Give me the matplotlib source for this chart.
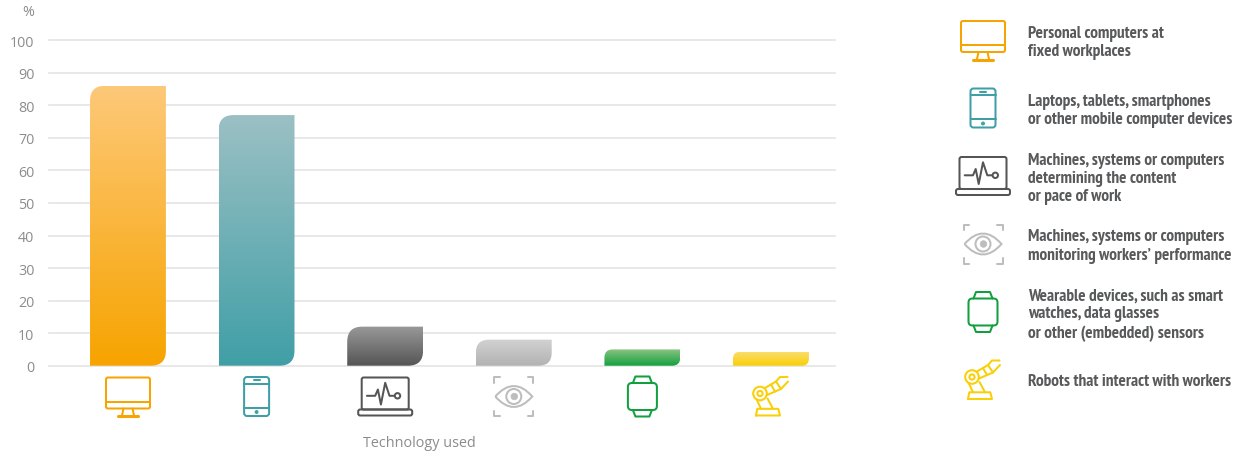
import numpy as np
import matplotlib
matplotlib.use('Agg')
import matplotlib.pyplot as plt
from matplotlib import font_manager
from matplotlib.colors import LinearSegmentedColormap
from matplotlib.patches import Circle, FancyBboxPatch, PathPatch
from matplotlib.path import Path

W, H = 1237, 452

categories = ['Personal computers at\nfixed workplaces',
              'Laptops, tablets, smartphones\nor other mobile computer devices',
              'Machines, systems or computers\ndetermining the content\nor pace of work',
              'Machines, systems or computers\nmonitoring workers\u2019 performance',
              'Wearable devices, such as smart\nwatches, data glasses\nor other (embedded) sensors',
              'Robots that interact with workers']
values = [86, 77, 12, 8, 5, 4.3]
y_ticks = list(range(0, 101, 10))
top_colors = ['#fdc878', '#9bc0c4', '#999999', '#d2d2d2', '#8cc383', '#fbdc6c']
bottom_colors = ['#f7a400', '#409fa6', '#555555', '#b2b2b2', '#11a03e', '#f9cf05']
icon_colors = ['#f7a400', '#409fa6', '#555555', '#bdbdbd', '#11a03e', '#f9cf05']
icon_names = ['monitor', 'phone', 'laptop', 'eye', 'watch', 'robot']
legend_centers = [41, 109, 177, 245, 313, 381]

TEXT_FONT = ['Open Sans', 'DejaVu Sans']
GRAY = '#8c8c8c'
ICON_LW = 1.45

plt.rcParams['font.family'] = TEXT_FONT

# condensed face for the legend, plain Liberation at a smaller size if it is missing
installed = set(f.name for f in font_manager.fontManager.ttflist)
if 'PT Sans Narrow' in installed:
    LEGEND_FONT, LEGEND_SIZE = ['PT Sans Narrow', 'DejaVu Sans'], 12.4
else:
    LEGEND_FONT, LEGEND_SIZE = ['Liberation Sans', 'DejaVu Sans'], 8.4


def line(ov, pts, color, cx, cy, lw=ICON_LW, closed=False):
    pts = np.array(pts, dtype=float) + [cx, cy]
    if closed:
        pts = np.vstack([pts, pts[0]])
    ov.plot(pts[:, 0], pts[:, 1], color=color, lw=lw, solid_capstyle='round',
            solid_joinstyle='round')


def rrect(ov, x0, y0, x1, y1, r, color, cx, cy, lw=ICON_LW):
    ov.add_patch(FancyBboxPatch((cx + x0 + r, cy + y0 + r), x1 - x0 - 2 * r, y1 - y0 - 2 * r,
                                boxstyle=f'round,pad={r},rounding_size={r}',
                                fc='none', ec=color, lw=lw))


def ring(ov, x, y, r, color, cx, cy, lw=ICON_LW, fill=False):
    ov.add_patch(Circle((cx + x, cy + y), r, fc=color if fill else 'none',
                        ec=color, lw=lw))


def draw_icon(ov, name, cx, cy, c):
    if name == 'monitor':
        rrect(ov, -22, -19, 22, 12, 2, c, cx, cy)
        line(ov, [(-22, 5), (22, 5)], c, cx, cy)
        line(ov, [(-4.5, 12), (-6, 19)], c, cx, cy)
        line(ov, [(4.5, 12), (6, 19)], c, cx, cy)
        line(ov, [(-10, 19.5), (10, 19.5)], c, cx, cy, lw=2.2)
    elif name == 'phone':
        rrect(ov, -12.5, -19.5, 12.5, 19.5, 3, c, cx, cy)
        line(ov, [(-12.5, -13), (12.5, -13)], c, cx, cy)
        line(ov, [(-12.5, 11), (12.5, 11)], c, cx, cy)
        line(ov, [(-3, -16.5), (3, -16.5)], c, cx, cy)
        ring(ov, 0, 15.5, 1.4, c, cx, cy, lw=0.8, fill=True)
    elif name == 'laptop':
        rrect(ov, -23.5, -19, 23.5, 13, 2, c, cx, cy)
        rrect(ov, -27, 13, 27, 19, 2, c, cx, cy)
        line(ov, [(-18.3, -0.7), (-10, -0.7), (-7.3, -7), (-4.3, 8), (0, -13.7),
                  (4.3, -0.7), (9, -0.7)], c, cx, cy)
        ring(ov, 12.3, -0.7, 2.7, c, cx, cy)
    elif name == 'eye':
        for sx in (-1, 1):
            for sy in (-1, 1):
                line(ov, [(sx * 14, sy * 19.5), (sx * 19.5, sy * 19.5), (sx * 19.5, sy * 14)],
                     c, cx, cy)
        verts = np.array([(-18.5, 0), (0, -21), (18.5, 0), (0, 21), (-18.5, 0)]) + [cx, cy]
        codes = [Path.MOVETO, Path.CURVE3, Path.CURVE3, Path.CURVE3, Path.CURVE3]
        ov.add_patch(PathPatch(Path(verts, codes), fc='none', ec=c, lw=ICON_LW))
        ring(ov, 0, 0, 7.5, c, cx, cy)
        ring(ov, 0.5, 0, 3.3, c, cx, cy, lw=0.5, fill=True)
    elif name == 'watch':
        rrect(ov, -14.5, -13.5, 14.5, 13.5, 4, c, cx, cy)
        line(ov, [(-9.5, -13.5), (-7, -20), (7, -20), (9.5, -13.5)], c, cx, cy)
        line(ov, [(-9.5, 13.5), (-7, 20), (7, 20), (9.5, 13.5)], c, cx, cy)
    elif name == 'robot':
        line(ov, [(-15, 19), (-13.7, 12.3), (7.3, 12.3), (9, 19)], c, cx, cy, closed=True)
        ring(ov, -11, -3, 6.8, c, cx, cy)
        ring(ov, -11, -3, 2.6, c, cx, cy)
        line(ov, [(-14.3, 3), (-10, 12.3)], c, cx, cy)
        line(ov, [(-3.5, 2), (2, 12.3)], c, cx, cy)
        line(ov, [(-6, -8.5), (5, -15), (10, -7.5), (-4, -1.5)], c, cx, cy)
        line(ov, [(0, -12), (4, -5)], c, cx, cy)
        line(ov, [(5, -15), (9, -19.5), (16.5, -19.5)], c, cx, cy)
        line(ov, [(10, -7.5), (17, -15)], c, cx, cy)


def bar_path(x0, x1, h, rx, ry):
    # top-left and bottom-right corners are rounded, the other two are square
    verts = [(x0, 0), (x0, h - ry), (x0, h), (x0 + rx, h), (x1, h), (x1, ry), (x1, 0),
             (x1 - rx, 0), (x0, 0)]
    codes = [Path.MOVETO, Path.LINETO, Path.CURVE3, Path.CURVE3, Path.LINETO, Path.LINETO,
             Path.CURVE3, Path.CURVE3, Path.CLOSEPOLY]
    return Path(verts, codes)


def main():
    fig = plt.figure(figsize=(W / 100, H / 100), dpi=100)
    ax = fig.add_axes([49 / W, 1 - 366.7 / H, (835 - 49) / W, (366 - 40.5) / H])
    xlim = (-0.614, 5.498)
    ylim = (0, 100)
    ppx = (835 - 49) / (xlim[1] - xlim[0])
    ppy = (366 - 40.5) / 100
    width = 0.59

    ax.set_yticks(y_ticks)
    ax.set_xticks([])
    ax.tick_params(axis='y', length=0, pad=10.5, labelsize=10.3, labelcolor=GRAY)
    ax.grid(axis='y', color='#e4e4e4', lw=1.2, zorder=0)
    ax.set_axisbelow(True)
    for s in ax.spines.values():
        s.set_visible(False)

    for i, v in enumerate(values):
        r = min(15, v * ppy / 2)
        x0, x1 = i - width / 2, i + width / 2
        cmap = LinearSegmentedColormap.from_list('b', [top_colors[i], bottom_colors[i]])
        im = ax.imshow(np.linspace(0, 1, 128).reshape(-1, 1), cmap=cmap, aspect='auto',
                       extent=(x0, x1, 0, v), zorder=2)
        patch = PathPatch(bar_path(x0, x1, v, r / ppx, r / ppy), transform=ax.transData,
                          fc='none', ec='none')
        ax.add_patch(patch)
        im.set_clip_path(patch)
    ax.set_xlim(xlim)
    ax.set_ylim(ylim)
    for gl in ax.get_ygridlines():
        gl.set_clip_on(False)

    # overlay in pixel coordinates for icons and free text
    ov = fig.add_axes([0, 0, 1, 1], facecolor='none')
    ov.set_xlim(0, W)
    ov.set_ylim(H, 0)
    ov.axis('off')

    ov.text(28, 13, '%', ha='center', va='center', fontsize=10.3, color=GRAY)
    ov.text(419, 444, 'Technology used', ha='center', va='center', fontsize=10.4, color=GRAY)

    for i, name in enumerate(icon_names):
        draw_icon(ov, name, 128 + ppx * i, 397.5, icon_colors[i])
        draw_icon(ov, name, 983, legend_centers[i], icon_colors[i])

    text_rows = [[33.5, 51.5], [101.5, 119.5], [161.5, 179.5, 197.5], [237.5, 256.5],
                 [296.5, 314.5, 333.5], [382.5]]
    for label, rows in zip(categories, text_rows):
        for txt, y in zip(label.split('\n'), rows):
            ov.text(1028, y, txt, ha='left', va='center', fontsize=LEGEND_SIZE, fontweight='bold',
                    family=LEGEND_FONT, color='#58595b')

    fig.savefig('out.png', dpi=100)


if __name__ == '__main__':
    main()
